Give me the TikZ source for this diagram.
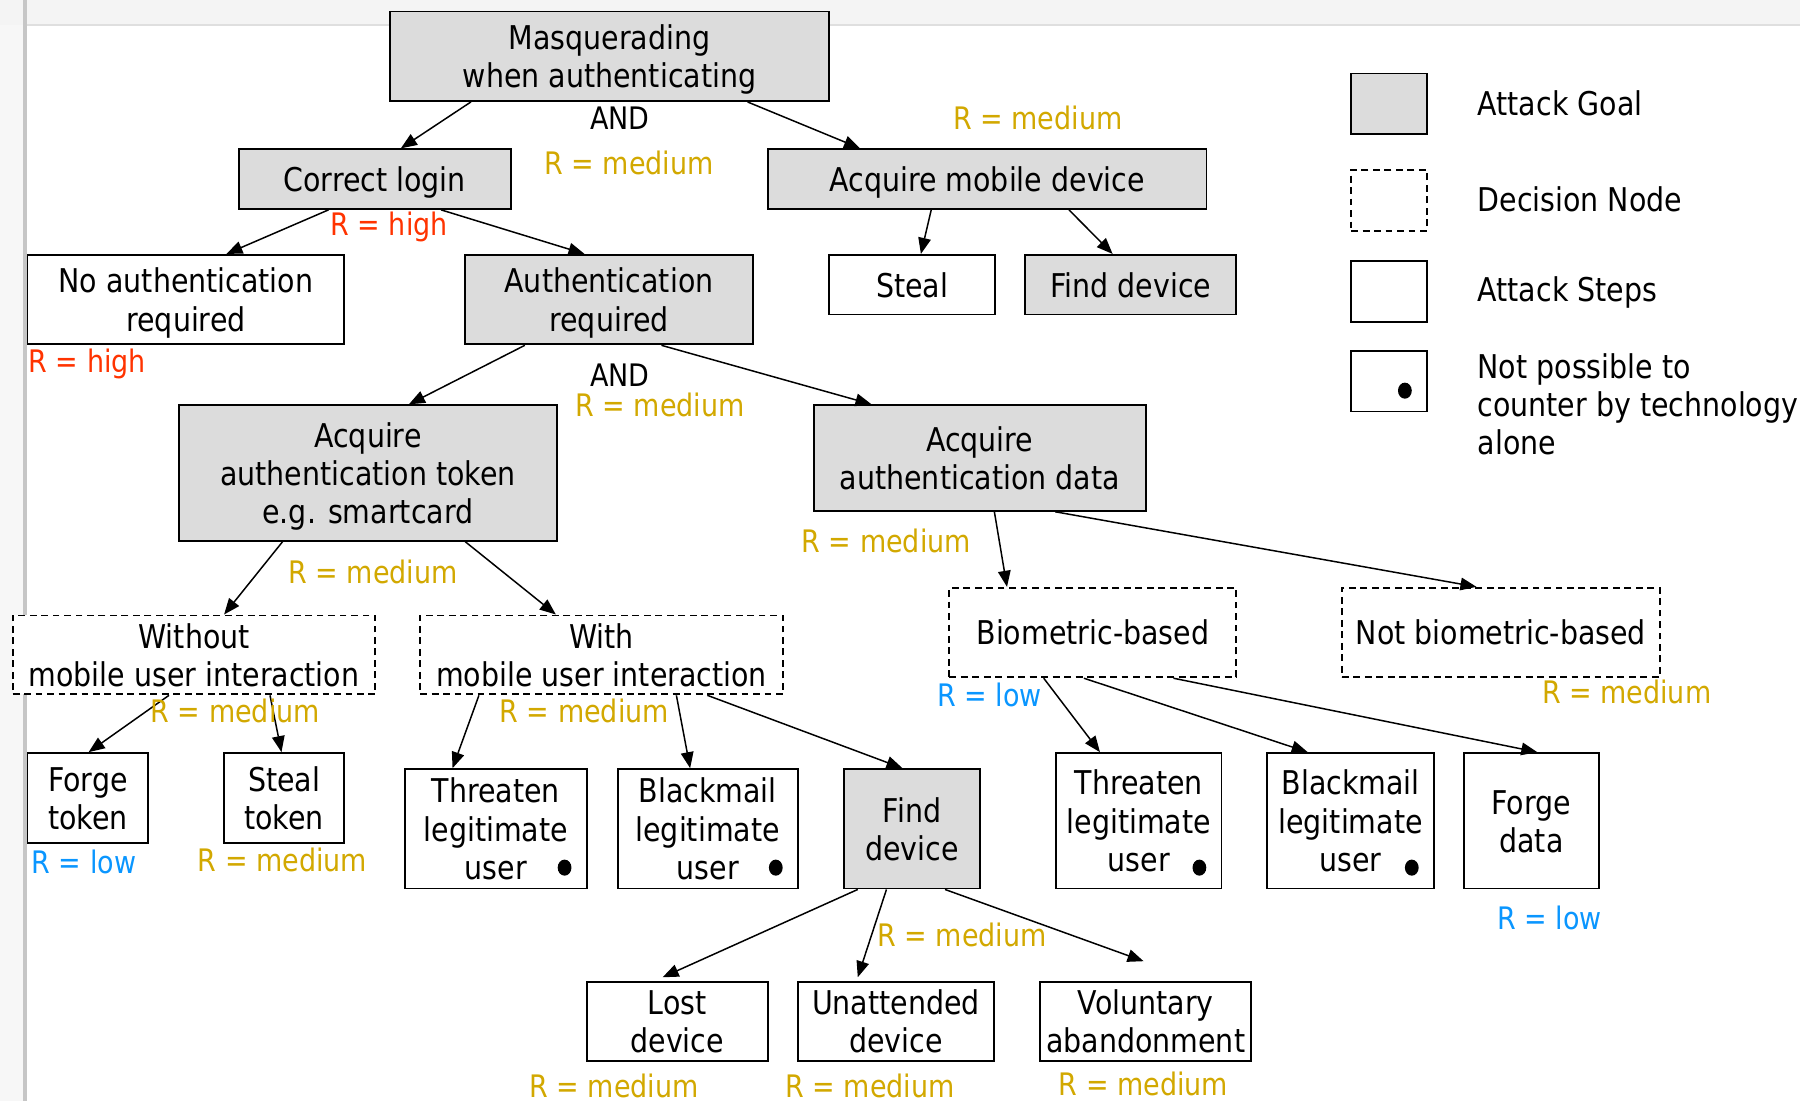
\documentclass[tikz,border=0pt]{standalone}
\usepackage{fontspec}
\setmainfont[FakeStretch=0.87]{DejaVu Sans}
\usetikzlibrary{arrows.meta}
\definecolor{goal}{HTML}{DCDCDC}
\definecolor{ryel}{HTML}{D2A800}
\definecolor{rred}{HTML}{FF3300}
\definecolor{rblue}{HTML}{0A96FF}
\newcommand{\tst}{\rule{0pt}{28.5pt}}
\newcommand{\bst}{\rule[-7pt]{0pt}{7pt}}
\begin{document}
\begin{tikzpicture}[x=1pt,y=-1pt,
  base/.style={draw=black, line width=1.6pt, inner sep=0pt, align=center,
    font=\fontsize{28.5}{33.3}\selectfont},
  goalbox/.style={base, fill=goal},
  stepbox/.style={base, fill=white},
  decbox/.style={base, dash pattern=on 6pt off 4pt, fill=white},
  legbox/.style={draw=black, line width=1.6pt, inner sep=0pt, minimum width=66, minimum height=53},
  arr/.style={line width=1.3pt, -{Triangle[length=14pt,width=11pt]}},
  rlab/.style={inner sep=0pt, font=\fontsize{27}{32}\selectfont},
  med/.style={rlab, text=ryel},
  high/.style={rlab, text=rred},
  low/.style={rlab, text=rblue},
  andlab/.style={rlab, text=black},
  leg/.style={inner sep=0pt, anchor=west, align=left, font=\fontsize{28.5}{33}\selectfont},
  dot/.style={fill=black}
]
\useasboundingbox (0,0) rectangle (1568,959);
% screenshot frame
\fill[gray!9] (0,0) rectangle (1568,22);
\draw[gray!25, line width=1.5pt] (22,22) -- (1568,22);
\fill[gray!6] (0,22) rectangle (20,959);
\draw[gray!45, line width=3.5pt] (21.5,0) -- (21.5,959);

% nodes
\node[goalbox, minimum width=382, minimum height=78] (masq) at (531,49) {\tst Masquerading\\when authenticating\bst};
\node[goalbox, minimum width=237, minimum height=52] (login) at (326.5,156) {\tst Correct login\bst};
\node[goalbox, minimum width=382, minimum height=52] (mobile) at (860,156) {\tst Acquire mobile device\bst};
\node[stepbox, minimum width=145, minimum height=52] (steal) at (794.5,248) {\tst Steal\bst};
\node[goalbox, minimum width=184, minimum height=52] (find1) at (985,248) {\tst Find device\bst};
\node[stepbox, minimum width=276, minimum height=78] (noauth) at (162,261) {\tst No authentication\\required\bst};
\node[goalbox, minimum width=251, minimum height=78] (authreq) at (530.5,261) {\tst Authentication\\required\bst};
\node[goalbox, minimum width=329, minimum height=118] (token) at (320.5,412) {\tst Acquire\\authentication token\\e.g. smartcard\bst};
\node[goalbox, minimum width=289, minimum height=92] (data) at (853.5,399) {\tst Acquire\\authentication data\bst};
\node[decbox, minimum width=316, minimum height=65] (without) at (169,570.5) {\tst Without\\mobile user interaction\bst};
\node[decbox, minimum width=316, minimum height=65] (with) at (524,570.5) {\tst With\\mobile user interaction\bst};
\node[decbox, minimum width=250, minimum height=78] (bio) at (952,551) {\tst Biometric-based\bst};
\node[decbox, minimum width=277, minimum height=78] (notbio) at (1307.5,551) {\tst Not biometric-based\bst};
\node[stepbox, minimum width=105, minimum height=78] (forgetok) at (76.5,695) {\tst Forge\\token\bst};
\node[stepbox, minimum width=105, minimum height=78] (stealtok) at (247.5,695) {\tst Steal\\token\bst};
\node[stepbox, minimum width=158, minimum height=104] (thL) at (432,722) {\tst Threaten\\legitimate\\user\bst};
\node[stepbox, minimum width=157, minimum height=104] (blL) at (616.5,722) {\tst Blackmail\\legitimate\\user\bst};
\node[goalbox, minimum width=119, minimum height=104] (find2) at (794.5,722) {\tst Find\\device\bst};
\node[stepbox, minimum width=144, minimum height=118] (thR) at (992,715) {\tst Threaten\\legitimate\\user\bst};
\node[stepbox, minimum width=145, minimum height=118] (blR) at (1176.5,715) {\tst Blackmail\\legitimate\\user\bst};
\node[stepbox, minimum width=118, minimum height=118] (forgedata) at (1334,715) {\tst Forge\\data\bst};
\node[stepbox, minimum width=158, minimum height=65] (lost) at (590,889.5) {\tst Lost\\device\bst};
\node[stepbox, minimum width=171, minimum height=65] (unatt) at (780.5,889.5) {\tst Unattended\\device\bst};
\node[stepbox, minimum width=184, minimum height=65] (volun) at (998,889.5) {\tst Voluntary\\abandonment\bst};

% dots
\fill[dot] ([xshift=-20pt,yshift=19pt]thL.south east) ellipse (6pt and 7pt);
\fill[dot] ([xshift=-20pt,yshift=19pt]blL.south east) ellipse (6pt and 7pt);
\fill[dot] ([xshift=-20pt,yshift=19pt]thR.south east) ellipse (6pt and 7pt);
\fill[dot] ([xshift=-20pt,yshift=19pt]blR.south east) ellipse (6pt and 7pt);

% connectors
\draw[arr] ([xshift=71pt]masq.south west) -- ([xshift=142pt]login.north west);
\draw[arr] ([xshift=312pt]masq.south west) -- ([xshift=81pt]mobile.north west);
\draw[arr] ([xshift=79pt]login.south west) -- ([xshift=174pt]noauth.north west);
\draw[arr] ([xshift=177pt]login.south west) -- ([xshift=105pt]authreq.north west);
\draw[arr] ([xshift=143pt]mobile.south west) -- ([xshift=81pt]steal.north west);
\draw[arr] ([xshift=263pt]mobile.south west) -- ([xshift=77pt]find1.north west);
\draw[arr] ([xshift=53pt]authreq.south west) -- ([xshift=201pt]token.north west);
\draw[arr] ([xshift=172pt]authreq.south west) -- ([xshift=51pt]data.north west);
\draw[arr] ([xshift=91pt]token.south west) -- ([xshift=185pt]without.north west);
\draw[arr] ([xshift=250pt]token.south west) -- ([xshift=119pt]with.north west);
\draw[arr] ([xshift=158pt]data.south west) -- ([xshift=51pt]bio.north west);
\draw[arr] ([xshift=211pt]data.south west) -- ([xshift=118pt]notbio.north west);
\draw[arr] ([xshift=137pt]without.south west) -- ([xshift=54pt]forgetok.north west);
\draw[arr] ([xshift=225pt]without.south west) -- ([xshift=51pt]stealtok.north west);
\draw[arr] ([xshift=52pt]with.south west) -- ([xshift=42pt]thL.north west);
\draw[arr] ([xshift=224pt]with.south west) -- ([xshift=64pt]blL.north west);
\draw[arr] ([xshift=251pt]with.south west) -- ([xshift=52pt]find2.north west);
\draw[arr] ([xshift=83pt]bio.south west) -- ([xshift=39pt]thR.north west);
\draw[arr] ([xshift=118pt]bio.south west) -- ([xshift=36pt]blR.north west);
\draw[arr] ([xshift=196pt]bio.south west) -- ([xshift=65pt]forgedata.north west);
\draw[arr] ([xshift=13pt]find2.south west) -- ([xshift=67pt,yshift=3pt]lost.north west);
\draw[arr] ([xshift=38pt]find2.south west) -- ([xshift=53pt,yshift=3pt]unatt.north west);
\draw[arr] ([xshift=89pt]find2.south west) -- ([xshift=91pt,yshift=17pt]volun.north west);

% labels
\node[andlab] (and1) at (540,103) {AND};
\node[andlab] (and2) at (540,327) {AND};
\node[med] (r1) at (548,142) {R = medium};
\node[med] (r2) at (904,103) {R = medium};
\node[high] (r3) at (339,198) {R = high};
\node[high] (r4) at (76,317) {R = high};
\node[med] (r5) at (575,353) {R = medium};
\node[med] (r6) at (772,471) {R = medium};
\node[med] (r7) at (325,498) {R = medium};
\node[med] (r8) at (205,619) {R = medium};
\node[med] (r9) at (509,619) {R = medium};
\node[low] (r10) at (862,605) {R = low};
\node[med] (r11) at (1417,603) {R = medium};
\node[low] (r12) at (73,751) {R = low};
\node[med] (r13) at (246,749) {R = medium};
\node[low] (r14) at (1350,800) {R = low};
\node[med] (r15) at (838,814) {R = medium};
\node[med] (r16) at (535,946) {R = medium};
\node[med] (r17) at (758,946) {R = medium};
\node[med] (r18) at (996,944) {R = medium};

% legend
\node[legbox, fill=goal] (lg1) at (1210,90.5) {};
\node[legbox, dash pattern=on 6pt off 4pt] (lg2) at (1210,174.5) {};
\node[legbox, fill=white] (lg3) at (1210,254) {};
\node[legbox, fill=white] (lg4) at (1210,332) {};
\fill[dot] ([xshift=-20pt,yshift=19pt]lg4.south east) ellipse (6pt and 7pt);
\node[leg] (lt1) at (1287,90) {Attack Goal};
\node[leg] (lt2) at (1287,174) {Decision Node};
\node[leg] (lt3) at (1287,255) {Attack Steps};
\node[leg] (lt4) at (1287,352) {Not possible to\\counter by technology\\alone};
\end{tikzpicture}
\end{document}
